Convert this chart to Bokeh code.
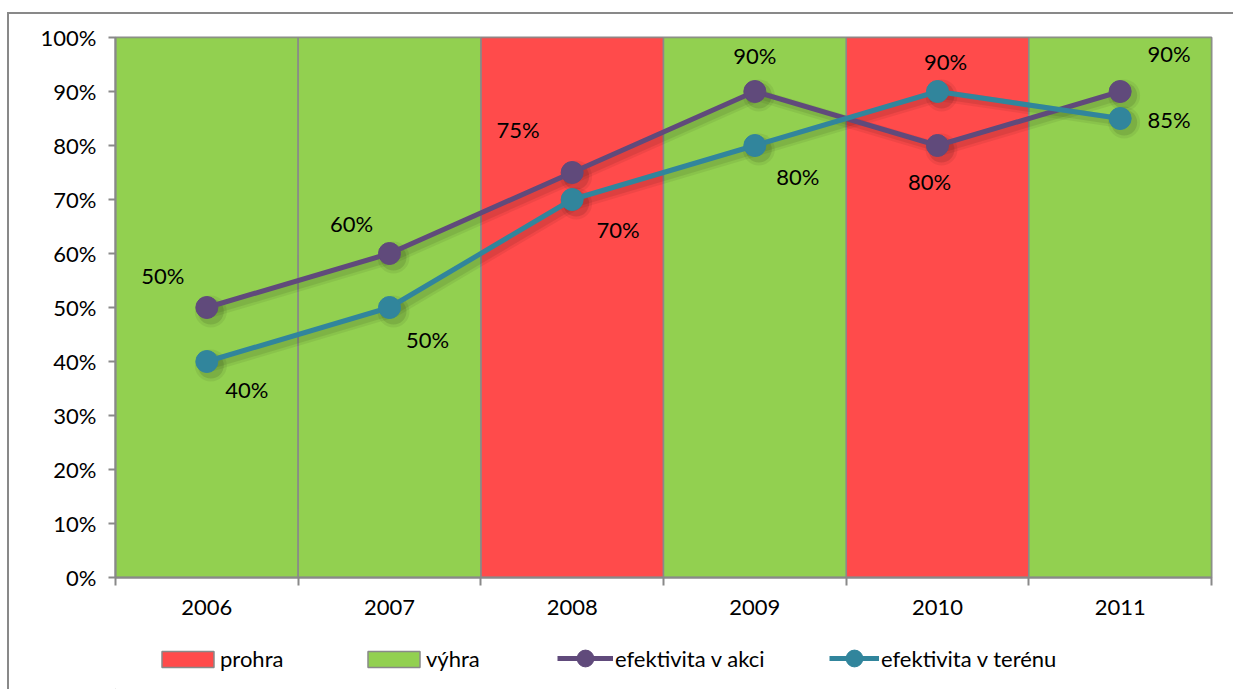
from bokeh.plotting import figure
from bokeh.layouts import column
from bokeh.models import (ColumnDataSource, Range1d, FixedTicker, Legend, LegendItem,
                          PrintfTickFormatter)
from bokeh.core.properties import value
from bokeh.embed import file_html
from bokeh.resources import INLINE

# ---- data ----
years = ["2006", "2007", "2008", "2009", "2010", "2011"]
outcome = ["výhra", "výhra", "prohra", "výhra", "prohra", "výhra"]
bar_value = [100, 100, 100, 100, 100, 100]
efektivita_akci = [50, 60, 75, 90, 80, 90]
efektivita_terenu = [40, 50, 70, 80, 90, 85]
y_ticks = [0, 10, 20, 30, 40, 50, 60, 70, 80, 90, 100]

# label offsets (screen px), style only
akci_dx = [-44, -38, -54, 0, -8, 49]
akci_dy = [-32, -30, -43, -36, 36, -38]
teren_dx = [40, 38, 46, 43, 8, 49]
teren_dy = [28, 32, 30, 31, -30, 1]

FONT = "Lato"
FS = "22px"
GREEN = "#92D050"
RED = "#FF4B4B"
PURPLE = "#604A7B"
TEAL = "#31859C"
GRAY = "#898989"

xc = [i + 0.5 for i in range(len(years))]

W = 1224
p = figure(width=W, height=615, output_backend="svg", toolbar_location=None,
           x_range=Range1d(0, len(years)), y_range=Range1d(0, 100),
           min_border_left=106, min_border_right=22, min_border_top=23, min_border_bottom=52)
p.xgrid.visible = False
p.ygrid.visible = False
p.outline_line_color = GRAY
p.outline_line_width = 2
p.background_fill_color = "white"

# bars
lose_x = [x for x, o in zip(xc, outcome) if o == "prohra"]
lose_t = [v for v, o in zip(bar_value, outcome) if o == "prohra"]
win_x = [x for x, o in zip(xc, outcome) if o == "výhra"]
win_t = [v for v, o in zip(bar_value, outcome) if o == "výhra"]
p.vbar(x=lose_x, top=lose_t, bottom=0, width=1, fill_color=RED, line_color=GRAY, line_width=1.5)
p.vbar(x=win_x, top=win_t, bottom=0, width=1, fill_color=GREEN, line_color=GRAY, line_width=1.5)

# soft shadows
dx, dy = 4 / 183.0, -4 / 5.4
for ys in (efektivita_akci, efektivita_terenu):
    sx = [x + dx for x in xc]
    sy = [y + dy for y in ys]
    p.line(sx, sy, line_color="black", line_alpha=0.06, line_width=12)
    p.line(sx, sy, line_color="black", line_alpha=0.08, line_width=7)
    p.scatter(sx, sy, size=32, fill_color="black", fill_alpha=0.06, line_alpha=0)
    p.scatter(sx, sy, size=26, fill_color="black", fill_alpha=0.1, line_alpha=0)

# lines
p.line(xc, efektivita_akci, line_color=PURPLE, line_width=5)
p.scatter(xc, efektivita_akci, size=22, fill_color=PURPLE, line_color=PURPLE)
p.line(xc, efektivita_terenu, line_color=TEAL, line_width=5)
p.scatter(xc, efektivita_terenu, size=22, fill_color=TEAL, line_color=TEAL)

# data labels
src_a = ColumnDataSource(dict(x=xc, y=efektivita_akci, t=[f"{v}%" for v in efektivita_akci],
                              dx=akci_dx, dy=akci_dy))
src_t = ColumnDataSource(dict(x=xc, y=efektivita_terenu, t=[f"{v}%" for v in efektivita_terenu],
                              dx=teren_dx, dy=teren_dy))
for s in (src_a, src_t):
    p.text(x="x", y="y", text="t", x_offset="dx", y_offset="dy", source=s,
           text_font=value(FONT), text_font_size=FS, text_color="black",
           text_align="center", text_baseline="middle")

# axes
p.yaxis.ticker = FixedTicker(ticks=y_ticks)
p.yaxis.formatter = PrintfTickFormatter(format="%d%%")
p.yaxis.axis_line_color = GRAY
p.yaxis.axis_line_width = 2
p.yaxis.major_tick_line_color = GRAY
p.yaxis.major_tick_line_width = 2
p.yaxis.major_tick_out = 7
p.yaxis.major_tick_in = 0
p.yaxis.minor_tick_line_color = None
p.yaxis.major_label_standoff = 12
p.yaxis.major_label_text_font = FONT
p.yaxis.major_label_text_font_size = FS
p.yaxis.major_label_text_color = "black"

p.xaxis.ticker = FixedTicker(ticks=xc, minor_ticks=list(range(len(years) + 1)))
p.xaxis.major_label_overrides = {x: y for x, y in zip(xc, years)}
p.xaxis.axis_line_color = GRAY
p.xaxis.axis_line_width = 2
p.xaxis.major_tick_line_color = None
p.xaxis.major_tick_out = 0
p.xaxis.major_tick_in = 0
p.xaxis.minor_tick_line_color = GRAY
p.xaxis.minor_tick_line_width = 2
p.xaxis.minor_tick_out = 8
p.xaxis.minor_tick_in = 0
p.xaxis.major_label_standoff = 14
p.xaxis.major_label_text_font = FONT
p.xaxis.major_label_text_font_size = FS
p.xaxis.major_label_text_color = "black"

# ---- legend strip (proxy glyphs kept outside the strip's visible range) ----
lg_fig = figure(width=W, height=60, output_backend="svg", toolbar_location=None,
                x_range=Range1d(0, 1), y_range=Range1d(0, 1),
                x_axis_location=None, y_axis_location=None,
                min_border=0, outline_line_color=None)
lg_fig.xgrid.visible = False
lg_fig.ygrid.visible = False
px, py = [-5], [-5]
d_lose = lg_fig.vbar(x=px, top=py, width=1, fill_color=RED, line_color=GRAY, line_width=1.5)
d_win = lg_fig.vbar(x=px, top=py, width=1, fill_color=GREEN, line_color=GRAY, line_width=1.5)
d_al = lg_fig.line(x=px, y=py, line_color=PURPLE, line_width=5)
d_as = lg_fig.scatter(x=px, y=py, fill_color=PURPLE, line_color=PURPLE)
d_tl = lg_fig.line(x=px, y=py, line_color=TEAL, line_width=5)
d_ts = lg_fig.scatter(x=px, y=py, fill_color=TEAL, line_color=TEAL)


def add_leg(label, renderers, x, y, gw, gh, standoff):
    lg = Legend(items=[LegendItem(label=label, renderers=renderers)],
                location=(x, y), orientation="horizontal",
                glyph_width=gw, glyph_height=gh, label_standoff=standoff,
                padding=0, margin=0, spacing=0, border_line_color=None,
                background_fill_alpha=0, label_text_font=FONT,
                label_text_font_size=FS, label_text_color="black",
                label_height=gh)
    lg_fig.add_layout(lg, "center")


add_leg("prohra", [d_lose], 40, 17, 65, 20, 0)
add_leg("výhra", [d_win], 246, 17, 65, 20, 0)
add_leg("efektivita v akci", [d_al, d_as], 442, 10, 56, 42, 2)
add_leg("efektivita v terénu", [d_tl, d_ts], 714, 10, 50, 42, 2)

layout = column(p, lg_fig, spacing=0,
                styles={"border-left": f"2px solid {GRAY}", "border-top": f"2px solid {GRAY}",
                        "margin-top": "12px", "margin-left": "7px"})

open("out.html", "w").write(file_html(layout, INLINE))
